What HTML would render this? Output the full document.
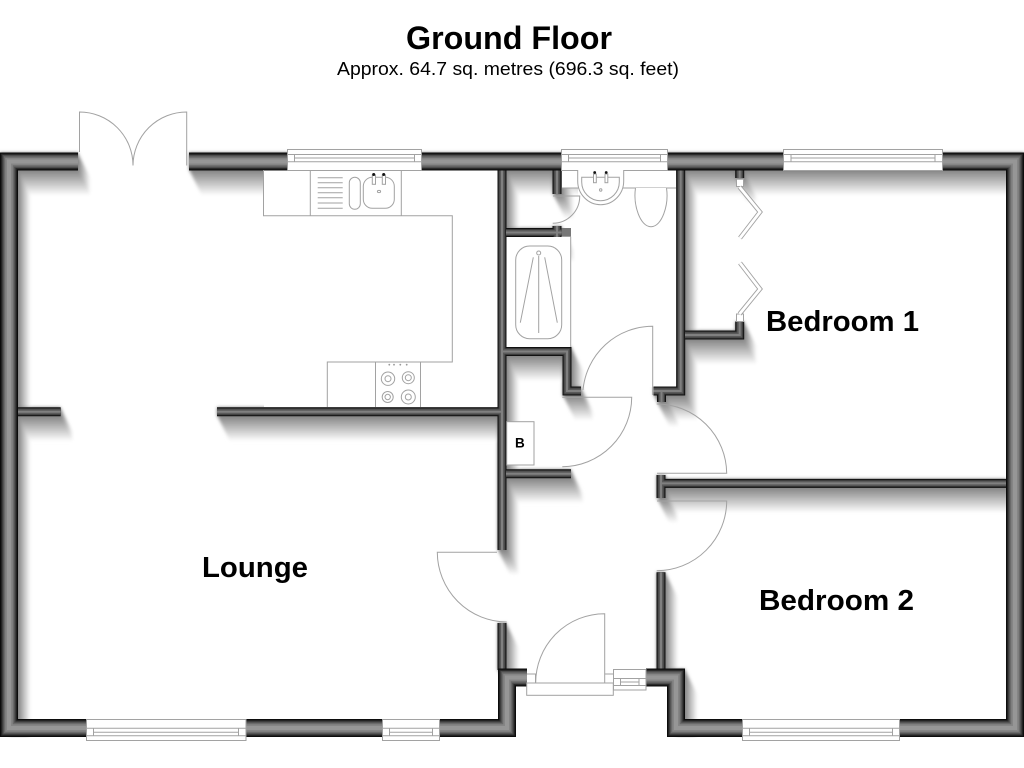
<!DOCTYPE html>
<html>
<head>
<meta charset="utf-8">
<style>
html,body{margin:0;padding:0;background:#fff;}
svg{display:block;}
text{font-family:"Liberation Sans",Arial,sans-serif;fill:#000;}
</style>
</head>
<body>
<svg xmlns="http://www.w3.org/2000/svg" width="1024" height="768" viewBox="0 0 1024 768">
<defs>
<filter id="blur" filterUnits="userSpaceOnUse" x="0" y="100" width="1024" height="668"><feGaussianBlur stdDeviation="1.5"/></filter>
<g id="thick" fill="none">
<path d="M78,161.5H9V728H507V677.5H527"/>
<path d="M189,161.5H1015V728H676V677.5H646"/>
</g>
<g id="thin" fill="none">
<path d="M18,411.7H60.7"/>
<path d="M217,411.7H502"/>
<path d="M502,170V550"/>
<path d="M502,623V670"/>
<path d="M506,232.5H561.7"/>
<path d="M557,226V237"/>
<path d="M557,170V194"/>
<path d="M502,351.5H567V391H581"/>
<path d="M680.7,170V391H653.5"/>
<path d="M661.5,391V402"/>
<path d="M685,335H739.7V321.5"/>
<path d="M739.7,170V178"/>
<path d="M506,473.8H571"/>
<path d="M661,483.4H1006"/>
<path d="M661,475V498"/>
<path d="M661,572.3V670"/>
</g>
<g id="shadowThick" fill="none" stroke-width="18">
<path d="M78,161.5H9V719"/>
<path d="M189,161.5H1024"/>
<path d="M676,669V719"/>
</g>
<g id="shadowAll">
<use href="#shadowThick"/>
<use href="#thin" stroke-width="9"/>
</g>
</defs>

<rect width="1024" height="768" fill="#fff"/>

<!-- Shadows: painter's gradient, far/light to near/dark -->
<g filter="url(#blur)">
<use href="#shadowAll" stroke="#f5f5f5" transform="translate(12,24)"/>
<use href="#shadowAll" stroke="#ebebeb" transform="translate(11,22)"/>
<use href="#shadowAll" stroke="#e2e2e2" transform="translate(10,20)"/>
<use href="#shadowAll" stroke="#d8d8d8" transform="translate(9,18)"/>
<use href="#shadowAll" stroke="#cecece" transform="translate(8,16)"/>
<use href="#shadowAll" stroke="#c4c4c4" transform="translate(7,14)"/>
<use href="#shadowAll" stroke="#bbbbbb" transform="translate(6,12)"/>
<use href="#shadowAll" stroke="#b1b1b1" transform="translate(5,10)"/>
<use href="#shadowAll" stroke="#a7a7a7" transform="translate(4,8)"/>
<use href="#shadowAll" stroke="#9d9d9d" transform="translate(3,6)"/>
<use href="#shadowAll" stroke="#949494" transform="translate(2,4)"/>
<use href="#shadowAll" stroke="#8a8a8a" transform="translate(1,2)"/>
<use href="#shadowAll" stroke="#808080"/>
</g>

<!-- White areas masking shadows -->
<rect x="264" y="170" width="234" height="237" fill="#fff"/>
<rect x="1006" y="170" width="18" height="560" fill="#fff"/>
<rect x="0" y="737.5" width="1024" height="30" fill="#fff"/>
<rect x="516" y="686" width="151" height="82" fill="#fff"/>
<rect x="527" y="640" width="119" height="46" fill="#fff"/>
<rect x="578" y="188" width="98" height="130" fill="#fff"/>
<rect x="640" y="300" width="36" height="87" fill="#fff"/>
<rect x="506" y="236" width="65" height="111.5" fill="#fff"/>
<rect x="506.7" y="421.7" width="27.3" height="43.3" fill="#fff"/>
<rect x="562" y="170" width="114" height="18" fill="#fff"/>

<!-- Thin walls -->
<use href="#thin" stroke="#111" stroke-width="9"/>
<use href="#thin" stroke="#3a3a3a" stroke-width="7"/>
<use href="#thin" stroke="#5a5a5a" stroke-width="5"/>
<use href="#thin" stroke="#808080" stroke-width="2"/>
<rect x="562" y="228" width="9" height="8.7" fill="#777"/>

<!-- Thick walls -->
<use href="#thick" stroke="#0c0c0c" stroke-width="18"/>
<use href="#thick" stroke="#2a2a2a" stroke-width="15.5"/>
<use href="#thick" stroke="#4d4d4d" stroke-width="13"/>
<use href="#thick" stroke="#6a6a6a" stroke-width="10.5"/>
<use href="#thick" stroke="#858585" stroke-width="7.5"/>
<use href="#thick" stroke="#969696" stroke-width="4"/>

<g fill="none" stroke="#a2a2a2" stroke-width="1">
<!-- Windows: top -->
<rect x="287.5" y="149.5" width="134" height="21" fill="#fff"/>
<path d="M288,154.5H421M288,161.7H421M294.5,154.5V161.7M414.5,154.5V161.7M294.5,158H414.5"/>
<rect x="561.5" y="149.5" width="106" height="21" fill="#fff"/>
<path d="M562,154.5H667M562,161.7H667M568.5,154.5V161.7M660.5,154.5V161.7M568.5,158H660.5"/>
<rect x="783.5" y="149.5" width="159" height="21" fill="#fff"/>
<path d="M784,154.5H942M784,161.7H942M791,154.5V161.7M935,154.5V161.7M791,158H935"/>

<!-- Windows: bottom -->
<rect x="86.5" y="719.5" width="159.5" height="21" fill="#fff"/>
<path d="M87,728.3H246M87,735.7H246M93.5,728V736M238.5,728V736M93.5,732.2H238.5"/>
<rect x="382.5" y="719.5" width="57" height="21" fill="#fff"/>
<path d="M383,728.3H439M383,735.7H439M389.5,728V736M432.5,728V736M389.5,732.2H432.5"/>
<rect x="742.5" y="719.5" width="157" height="21" fill="#fff"/>
<path d="M743,728.3H899M743,735.7H899M749.5,728V736M892.5,728V736M749.5,732.2H892.5"/>

<!-- Entrance -->
<rect x="613.5" y="669.5" width="32.5" height="20.5" fill="#fff"/>
<path d="M614,678.5H646M614,685.5H646M620.5,678V686M639,678V686M620.5,682H639"/>
<rect x="526.7" y="683" width="86.6" height="12.3" fill="#fff"/>
<path d="M527,674H535.5V683M604.7,674H613.3"/>
<path d="M604.7,683V613.7A69,69 0 0 0 535.7,683"/>

<!-- Double doors -->
<path d="M79.5,152V112A53.5,53.5 0 0 1 133,165.5"/>
<path d="M186.7,165.5V112A53.7,53.7 0 0 0 133,165.5"/>

<!-- Interior doors -->
<path d="M553,196H579.7A27,27 0 0 1 552.7,223.3"/>
<path d="M652.7,395V326.3A70,70 0 0 0 583,390"/>
<path d="M562.3,397.3H631.7A69.7,69.7 0 0 1 562.3,466.7"/>
<path d="M656.7,404A70,70 0 0 1 726.7,473.3H657"/>
<path d="M657,501H726.7A70,70 0 0 1 656.7,570.7"/>
<path d="M497,552.3H437.3A70,70 0 0 0 506.7,622"/>

<!-- Kitchen -->
<path d="M263.5,170V215.7H452.3V362H327.3V407"/>
<path d="M310.3,170V215.7M401.3,170V215.7M375.5,362V407M420.5,362V407"/>
<path d="M317.7,177.7H342.7M317.7,182.7H342.7M317.7,187.7H342.7M317.7,192.7H342.7M317.7,197.7H342.7M317.7,203H342.7M317.7,208.3H342.7"/>
<rect x="349.3" y="177.3" width="11" height="32" rx="5.5"/>
<rect x="363.3" y="177.3" width="31" height="31" rx="9"/>
<rect x="372.3" y="175" width="3.2" height="9.3" fill="#fff"/>
<rect x="382.3" y="175" width="3.2" height="9.3" fill="#fff"/>
<ellipse cx="379" cy="191.5" rx="1.6" ry="1.1"/>
<circle cx="388" cy="378.7" r="6.7"/><circle cx="388" cy="378.7" r="3"/>
<circle cx="408.3" cy="377.7" r="6"/><circle cx="408.3" cy="377.7" r="3"/>
<circle cx="387.7" cy="397" r="5.5"/><circle cx="387.7" cy="397" r="2.7"/>
<circle cx="408.3" cy="397" r="7"/><circle cx="408.3" cy="397" r="3"/>

<!-- Bathroom -->
<path d="M562,188H676"/>
<path d="M577.7,170V181A23,23.7 0 0 0 623.7,181V170" fill="#fff"/>
<path d="M581.7,177.3V182A18.8,18.7 0 0 0 619.3,182V177.3Z"/>
<rect x="593.5" y="174" width="2.8" height="8.7" fill="#fff"/>
<rect x="605" y="174" width="2.8" height="8.7" fill="#fff"/>
<circle cx="600.7" cy="190" r="1.2"/>
<path d="M635.5,188C633,205 640,226.7 651,226.7C662,226.7 669,205 666.5,188" fill="#fff"/>
<path d="M570.7,236.7V347"/>
<rect x="515.7" y="246" width="46" height="92.7" rx="14"/>
<circle cx="538.7" cy="253" r="2"/>
<path d="M538.7,256V333M533.3,257.3L520.3,322.7M544.7,257.3L557.3,322.7"/>

<!-- Cupboard -->
<rect x="506.7" y="421.7" width="27.3" height="43.3"/>

<!-- Bifold doors -->
<path d="M736.5,179.3H743.5V186.5H736.5Z" fill="#fff"/>
<path d="M736.5,314H743.5V321.5H736.5Z" fill="#fff"/>
</g>

<g fill="none" stroke="#a2a2a2" stroke-width="4.6" stroke-linejoin="miter">
<path d="M739.5,187L760,212L740,238"/>
<path d="M740,263L760,289L739.5,314"/>
</g>
<g fill="none" stroke="#fff" stroke-width="2.8" stroke-linejoin="miter">
<path d="M739.5,187L760,212L740,238"/>
<path d="M740,263L760,289L739.5,314"/>
</g>

<!-- Tap dots -->
<circle cx="373.7" cy="174.5" r="1.5" fill="#111"/>
<circle cx="383.7" cy="174.5" r="1.5" fill="#111"/>
<circle cx="594.7" cy="172.5" r="1.4" fill="#111"/>
<circle cx="606.2" cy="172.5" r="1.4" fill="#111"/>
<g fill="#999">
<circle cx="389.3" cy="364.7" r="0.9"/><circle cx="394" cy="364.7" r="0.9"/>
<circle cx="400.3" cy="364.7" r="0.9"/><circle cx="406.7" cy="364.7" r="0.9"/>
</g>

<!-- Labels -->
<text x="406" y="49" font-size="32" font-weight="bold" textLength="206" lengthAdjust="spacingAndGlyphs">Ground Floor</text>
<text x="337" y="75" font-size="18" textLength="342" lengthAdjust="spacingAndGlyphs">Approx. 64.7 sq. metres (696.3 sq. feet)</text>
<text x="202" y="577" font-size="29" font-weight="bold" textLength="106" lengthAdjust="spacingAndGlyphs">Lounge</text>
<text x="766" y="331" font-size="29" font-weight="bold" textLength="153" lengthAdjust="spacingAndGlyphs">Bedroom 1</text>
<text x="759" y="610" font-size="29" font-weight="bold" textLength="155" lengthAdjust="spacingAndGlyphs">Bedroom 2</text>
<text x="515" y="447.5" font-size="13.5" font-weight="bold">B</text>
</svg>
</body>
</html>
